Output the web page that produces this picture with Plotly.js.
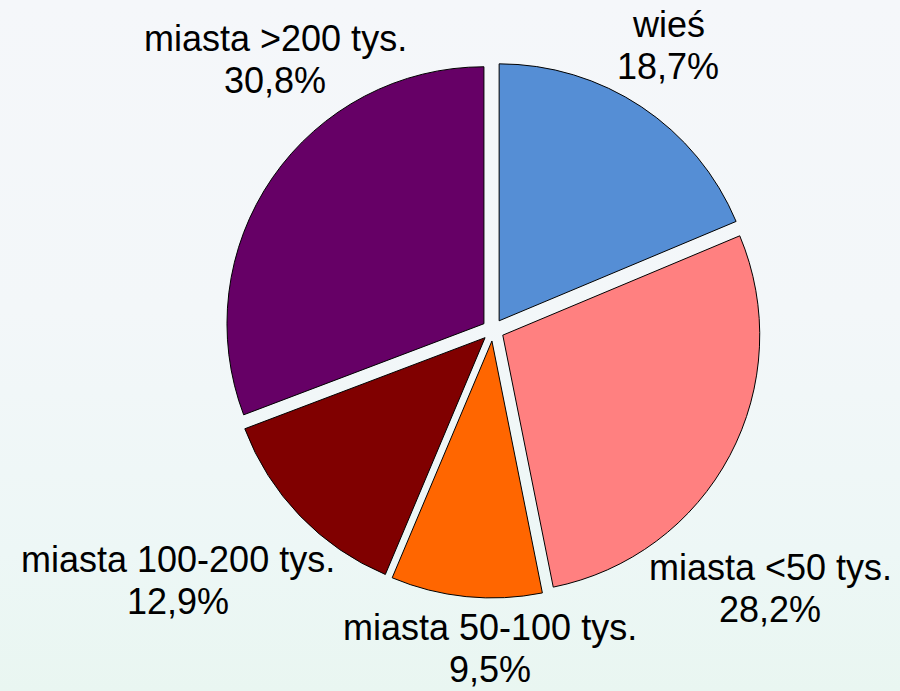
<!DOCTYPE html>
<html>
<head>
<meta charset="utf-8">
<script src="https://cdn.plot.ly/plotly-3.0.1.min.js"></script>
<style>
  html, body { margin:0; padding:0; }
  body { width:900px; height:691px; background: linear-gradient(to bottom, #f5f7fa 0%, #f3f7f9 45%, #edf7f6 80%, #e9f6f1 100%); }
  #chart { width:900px; height:691px; }
</style>
</head>
<body>
<div id="chart"></div>
<script>
const categories = ["wieś", "miasta <50 tys.", "miasta 50-100 tys.", "miasta 100-200 tys.", "miasta >200 tys."];
const shares = [18.7, 28.2, 9.5, 12.9, 30.8];
const colors = ["#558ED5", "#FF8080", "#FF6600", "#800000", "#660066"];

// label placement: [center x, baseline of first line] in page pixels -- layout only
const labelPos = [[668, 37], [770, 580], [490, 640], [178, 572], [275, 51]];
const lineGap = 42;

const W = 900, H = 691, FS = 36;
const fmt = v => v.toFixed(1).replace(".", ",") + "%";

const trace = {
  type: "pie",
  labels: categories,
  values: shares,
  sort: false,
  direction: "clockwise",
  rotation: 0,
  pull: categories.map(() => 0.043),
  marker: { colors: colors, line: { color: "#000000", width: 1 } },
  textinfo: "none",
  textposition: "none",
  automargin: false,
  hoverinfo: "none",
  showlegend: false,
  domain: { x: [0.25, 0.8456], y: [0.1346, 0.9103] }
};

const font = { family: "Liberation Sans, Arial, sans-serif", size: FS, color: "#000000" };
const annotations = [];
categories.forEach((c, i) => {
  const lines = [c, fmt(shares[i])];
  lines.forEach((t, k) => {
    const baseline = labelPos[i][1] + k * lineGap;
    annotations.push({
      text: t,
      x: labelPos[i][0] / W,
      y: 1 - (baseline - 0.36 * FS) / H,
      xref: "paper", yref: "paper",
      xanchor: "center", yanchor: "middle",
      borderpad: 0,
      showarrow: false,
      font: font
    });
  });
});

const layout = {
  width: W, height: H,
  margin: { l: 0, r: 0, t: 0, b: 0 },
  paper_bgcolor: "rgba(0,0,0,0)",
  plot_bgcolor: "rgba(0,0,0,0)",
  separators: ",.",
  showlegend: false,
  annotations: annotations
};

Plotly.newPlot("chart", [trace], layout, { displayModeBar: false, staticPlot: true });
</script>
</body>
</html>
